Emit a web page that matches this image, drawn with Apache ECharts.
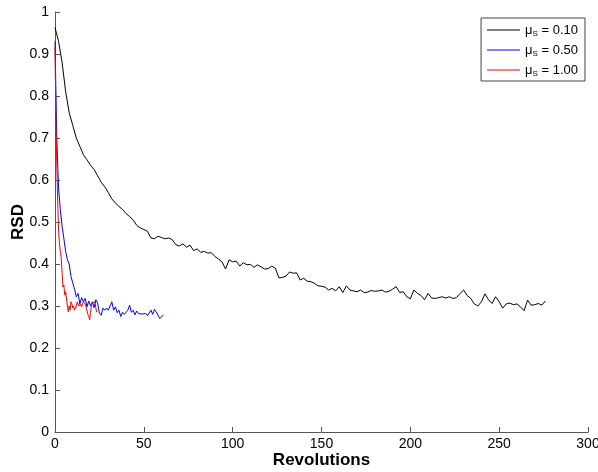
<!DOCTYPE html>
<html>
<head>
<meta charset="utf-8">
<script src="https://cdn.jsdelivr.net/npm/echarts@6/dist/echarts.min.js"></script>
<style>html,body{margin:0;padding:0;background:#fff}#c{width:598px;height:472px}</style>
</head>
<body>
<div id="c"></div>
<script>
// Sampling grids (revolutions)
const stepBlack = 2, stepBlue = 1, stepRed = 0.5;
const seriesNames = ['0.10', '0.50', '1.00'];
const xTicks = [0, 50, 100, 150, 200, 250, 300];
const yTicks = [0, 0.1, 0.2, 0.3, 0.4, 0.5, 0.6, 0.7, 0.8, 0.9, 1];

// RSD values, mu_s = 0.10 (every 2 revolutions)
const rsdBlack = [
 0.963,0.93,0.88,0.81,0.76,0.73,0.70,0.68,0.66,0.648,
 0.635,0.625,0.61,0.595,0.584,0.57,0.555,0.545,0.537,0.53,
 0.52,0.513,0.505,0.492,0.486,0.482,0.478,0.462,0.46,0.466,
 0.463,0.46,0.462,0.458,0.446,0.443,0.448,0.44,0.445,0.432,
 0.436,0.428,0.43,0.426,0.427,0.418,0.412,0.405,0.388,0.41,
 0.405,0.407,0.395,0.403,0.398,0.399,0.392,0.398,0.393,0.388,
 0.389,0.395,0.39,0.367,0.368,0.371,0.381,0.378,0.379,0.362,
 0.366,0.359,0.358,0.354,0.348,0.347,0.345,0.338,0.342,0.336,
 0.346,0.332,0.348,0.338,0.336,0.334,0.338,0.332,0.333,0.337,
 0.335,0.336,0.338,0.333,0.335,0.34,0.346,0.332,0.334,0.322,
 0.317,0.338,0.33,0.325,0.315,0.33,0.319,0.318,0.32,0.322,
 0.319,0.322,0.318,0.32,0.33,0.338,0.325,0.318,0.305,0.3,
 0.31,0.329,0.315,0.306,0.322,0.31,0.295,0.305,0.307,0.303,
 0.305,0.298,0.289,0.314,0.302,0.303,0.306,0.302,0.312
];
// RSD values, mu_s = 0.50 (every revolution)
const rsdBlue = [
 0.93,0.70,0.58,0.53,0.49,0.46,0.43,0.41,0.40,0.37,
 0.355,0.34,0.322,0.33,0.305,0.32,0.31,0.318,0.298,0.312,
 0.30,0.31,0.296,0.315,0.307,0.283,0.278,0.295,0.29,0.295,
 0.29,0.3,0.31,0.29,0.298,0.284,0.29,0.275,0.285,0.28,
 0.283,0.29,0.302,0.285,0.29,0.279,0.288,0.282,0.286,0.281,
 0.28,0.282,0.277,0.275,0.29,0.28,0.292,0.286,0.282,0.27,
 0.268,0.279
];
// RSD values, mu_s = 1.00 (every half revolution)
const rsdRed = [
 0.915,0.75,0.64,0.55,0.48,0.45,0.43,0.415,0.38,0.345,
 0.35,0.326,0.334,0.33,0.30,0.286,0.30,0.29,0.31,0.305,
 0.295,0.30,0.29,0.286,0.30,0.31,0.314,0.30,0.296,0.305,
 0.298,0.305,0.31,0.314,0.305,0.298,0.298,0.28,0.275,0.267,
 0.285,0.30,0.307,0.31,0.305,0.31,0.295,0.285
];

const pairs = (vals, step) => vals.map((v, i) => [i * step, v]);
const FONT = "'Liberation Sans', Arial, Helvetica, sans-serif";

const chart = echarts.init(document.getElementById('c'), null, {renderer: 'canvas'});
chart.setOption({
  animation: false,
  backgroundColor: '#fff',
  grid: {left: 55, right: 10, top: 12, bottom: 40, containLabel: false, outerBoundsMode: 'none'},
  legend: {
    right: 13, top: 18,
    orient: 'vertical',
    backgroundColor: '#fff',
    borderColor: '#444', borderWidth: 1,
    padding: [0, 7, 3, 6],
    icon: 'path://M0,0H33V1H0Z',
    itemWidth: 33, itemHeight: 14, itemGap: 0,
    textStyle: {
      fontFamily: FONT, fontSize: 13, color: '#000',
      rich: {
        m: {fontFamily: FONT, fontSize: 13, lineHeight: 16, color: '#000'},
        s: {fontFamily: FONT, fontSize: 8, lineHeight: 9, color: '#000', verticalAlign: 'bottom', padding: [12, 0, 0, 0]},
        t: {fontFamily: FONT, fontSize: 13, lineHeight: 16, color: '#000'}
      }
    },
    formatter: function (name) { return '{m|μ}{s|S}{t| = ' + name + '}'; },
    data: seriesNames
  },
  xAxis: {
    type: 'value', min: xTicks[0], max: xTicks[xTicks.length - 1], interval: 50,
    name: 'Revolutions', nameLocation: 'middle', nameGap: 20, nameMoveOverlap: false,
    nameTextStyle: {fontFamily: FONT, fontSize: 17, fontWeight: 'bold', color: '#000'},
    axisLine: {show: true, lineStyle: {color: '#555', width: 1}},
    axisTick: {show: true, inside: true, length: 5, lineStyle: {color: '#555'}},
    axisLabel: {fontFamily: FONT, fontSize: 14, color: '#000', margin: 5},
    splitLine: {show: false}
  },
  yAxis: {
    type: 'value', min: yTicks[0], max: yTicks[yTicks.length - 1], interval: 0.1,
    name: 'RSD', nameLocation: 'middle', nameGap: 28, nameMoveOverlap: false,
    nameTextStyle: {fontFamily: FONT, fontSize: 17, fontWeight: 'bold', color: '#000'},
    axisLine: {show: true, lineStyle: {color: '#555', width: 1}},
    axisTick: {show: true, inside: true, length: 5, lineStyle: {color: '#555'}},
    axisLabel: {fontFamily: FONT, fontSize: 14, color: '#000', margin: 6},
    splitLine: {show: false}
  },
  series: [
    {name: seriesNames[0], type: 'line', data: pairs(rsdBlack, stepBlack), symbol: 'none',
     lineStyle: {color: '#000', width: 1}, itemStyle: {color: '#000'}},
    {name: seriesNames[1], type: 'line', data: pairs(rsdBlue, stepBlue), symbol: 'none',
     lineStyle: {color: '#0000ff', width: 1}, itemStyle: {color: '#0000ff'}},
    {name: seriesNames[2], type: 'line', data: pairs(rsdRed, stepRed), symbol: 'none',
     lineStyle: {color: '#ff0000', width: 1}, itemStyle: {color: '#ff0000'}}
  ]
});
</script>
</body>
</html>
